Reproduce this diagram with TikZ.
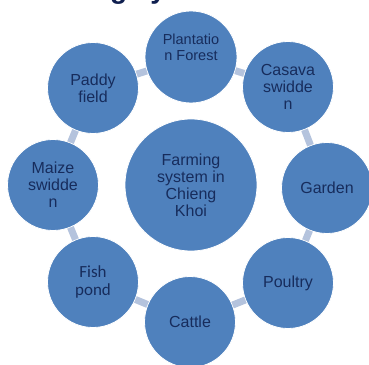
\documentclass[tikz,border=0pt]{standalone}
\usepackage{fontspec}
\setmainfont{Liberation Sans}
\newfontfamily\calib{Carlito}
\definecolor{cfill}{HTML}{4F81BD}
\definecolor{ctext}{HTML}{172C5C}
\definecolor{clink}{HTML}{B4C3DD}
\definecolor{ctitle}{HTML}{0F1F4F}
\begin{document}
\begin{tikzpicture}[x=1pt,y=1pt,
  circ/.style={circle, fill=cfill, draw=white, line width=0.8pt, minimum size=91pt,
    inner sep=0pt, text=ctext, align=center, font=\fontsize{16}{17}\selectfont},
  lbl/.style={text=ctext, align=center, inner sep=0pt},
  link/.style={draw=clink, line width=7pt}]
\useasboundingbox (0,0) rectangle (369,364);
\clip (0,0) rectangle (369,364);
\node[anchor=base west, font=\fontsize{28}{30}\selectfont\bfseries, text=ctitle, inner sep=0pt] (title) at (16.5,365) {Farming system};
\node[circ, minimum size=132pt] (hub) at (191,179) {Farming\\system in\\Chieng\\Khoi};
\node[circ, minimum size=92pt] (plant) at (191,307) {};
\node[lbl, font=\fontsize{14.5}{16}\selectfont] (plantT) at (191,317) {Plantatio\\n Forest};
\node[circ] (casava) at (288,277) {Casava\\swidde\\n};
\node[circ] (garden) at (327,176) {Garden};
\node[circ] (poultry) at (288,81) {Poultry};
\node[circ] (cattle) at (190,42) {Cattle};
\node[circ, font=\calib\fontsize{17}{18.3}\selectfont] (fish) at (93,82) {Fish\\pond};
\node[circ] (maize) at (53,179) {Maize\\swidde\\n};
\node[circ] (paddy) at (93,276) {Paddy\\field};
\draw[link] (plant) -- (casava);
\draw[link] (casava) -- (garden);
\draw[link] (garden) -- (poultry);
\draw[link] (poultry) -- (cattle);
\draw[link] (cattle) -- (fish);
\draw[link] (fish) -- (maize);
\draw[link] (maize) -- (paddy);
\draw[link] (paddy) -- (plant);
\end{tikzpicture}
\end{document}
